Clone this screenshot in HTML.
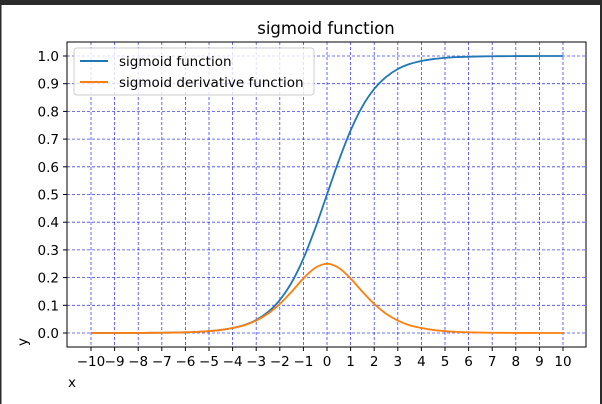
<!DOCTYPE html>
<html><head><meta charset="utf-8"><style>
html,body{margin:0;padding:0;background:#fff;}
svg{display:block;font-family:"DejaVu Sans","Liberation Sans",sans-serif;}
</style></head><body>
<svg id="chart" width="602" height="404" viewBox="0 0 602 404">
<rect x="0" y="0" width="602" height="404" fill="#fff"/>
<rect x="0" y="0" width="602" height="5" fill="#2b2b2b"/>
<rect x="0" y="0" width="1.5" height="404" fill="#2b2b2b"/>
<rect x="600" y="0" width="2" height="404" fill="#2b2b2b"/>
<text x="326" y="34" font-size="16.5" text-anchor="middle" fill="#000">sigmoid function</text>
<g id="grid"></g>
<g id="series"></g>
<g id="ticks"></g>
<rect x="67" y="42" width="519" height="305" fill="none" stroke="#000" stroke-width="1"/>
<g>
<rect x="74" y="48" width="240" height="47" rx="3" fill="#fff" fill-opacity="0.8" stroke="#ccc" stroke-width="1"/>
<line x1="80" y1="61" x2="108" y2="61" stroke="#1f77b4" stroke-width="2"/>
<text x="119" y="66" font-size="13.5" fill="#000">sigmoid function</text>
<line x1="80" y1="82" x2="108" y2="82" stroke="#ff7f0e" stroke-width="2"/>
<text x="119" y="87" font-size="13.5" fill="#000">sigmoid derivative function</text>
</g>
<text x="72" y="387" font-size="13.5" text-anchor="middle" fill="#000">x</text>
<text x="27" y="342" font-size="13.5" text-anchor="middle" fill="#000" transform="rotate(-90 27 342)">y</text>
</svg>
<script>
const xValues=[-10,-9.5,-9,-8.5,-8,-7.5,-7,-6.5,-6,-5.5,-5,-4.5,-4,-3.5,-3,-2.5,-2,-1.5,-1,-0.5,0,0.5,1,1.5,2,2.5,3,3.5,4,4.5,5,5.5,6,6.5,7,7.5,8,8.5,9,9.5,10];
const sigmoidValues=[0.0000,0.0001,0.0001,0.0002,0.0003,0.0006,0.0009,0.0015,0.0025,0.0041,0.0067,0.011,0.018,0.029,0.047,0.076,0.119,0.182,0.269,0.378,0.5,0.622,0.731,0.818,0.881,0.924,0.953,0.971,0.982,0.989,0.9933,0.9959,0.9975,0.9985,0.9991,0.9994,0.9997,0.9998,0.9999,0.9999,1.0];
const derivativeValues=[0.0000,0.0001,0.0001,0.0002,0.0003,0.0006,0.0009,0.0015,0.0025,0.0041,0.0066,0.011,0.018,0.028,0.045,0.070,0.105,0.149,0.197,0.235,0.25,0.235,0.197,0.149,0.105,0.070,0.045,0.028,0.018,0.011,0.0066,0.0041,0.0025,0.0015,0.0009,0.0006,0.0003,0.0002,0.0001,0.0001,0.0000];
const xTicks=[-10,-9,-8,-7,-6,-5,-4,-3,-2,-1,0,1,2,3,4,5,6,7,8,9,10];
const yTicks=[0,0.1,0.2,0.3,0.4,0.5,0.6,0.7,0.8,0.9,1.0];
const yTickLabels=["0.0","0.1","0.2","0.3","0.4","0.5","0.6","0.7","0.8","0.9","1.0"];

const NS="http://www.w3.org/2000/svg";
function sx(v){return 91+(v+10)*(563-91)/20;}
function sy(v){return 333-v*(333-56);}
function mk(tag,attrs,parent){const e=document.createElementNS(NS,tag);for(const k in attrs)e.setAttribute(k,attrs[k]);parent.appendChild(e);return e;}
const grid=document.getElementById('grid'),ticks=document.getElementById('ticks'),series=document.getElementById('series');
xTicks.forEach(function(t){
  const g=mk('line',{x1:sx(t),x2:sx(t),y1:42,y2:347,stroke:'#0000ff','stroke-opacity':0.75,'stroke-width':0.8,'stroke-dasharray':'3,2'},grid);
  
  
  const tk=mk('line',{x1:sx(t),x2:sx(t),y1:347,y2:351,stroke:'#000','stroke-width':1},ticks);
  
  
  const lb=mk('text',{x:sx(t),y:366,'font-size':13.5,'text-anchor':'middle',fill:'#000'},ticks);
  lb.textContent=(t<0?'\u2212'+(-t):String(t));
  
  
});
yTicks.forEach(function(t,i){
  const g=mk('line',{x1:67,x2:586,y1:sy(t),y2:sy(t),stroke:'#0000ff','stroke-opacity':0.75,'stroke-width':0.8,'stroke-dasharray':'3,2'},grid);
  
  
  const tk=mk('line',{x1:63,x2:67,y1:sy(t),y2:sy(t),stroke:'#000','stroke-width':1},ticks);
  
  
  const lb=mk('text',{x:59,y:sy(t)+5,'font-size':13.5,'text-anchor':'end',fill:'#000'},ticks);
  lb.textContent=yTickLabels[i];
  
  
});
function smoothPath(xs,ys){
  const p=xs.map(function(x,i){return [sx(x),sy(ys[i])];});
  let d='M'+p[0][0].toFixed(2)+','+p[0][1].toFixed(2);
  for(let i=0;i<p.length-1;i++){
    const p0=p[Math.max(i-1,0)],p1=p[i],p2=p[i+1],p3=p[Math.min(i+2,p.length-1)];
    const c1x=p1[0]+(p2[0]-p0[0])/6,c1y=p1[1]+(p2[1]-p0[1])/6;
    const c2x=p2[0]-(p3[0]-p1[0])/6,c2y=p2[1]-(p3[1]-p1[1])/6;
    d+=' C'+c1x.toFixed(2)+','+c1y.toFixed(2)+' '+c2x.toFixed(2)+','+c2y.toFixed(2)+' '+p2[0].toFixed(2)+','+p2[1].toFixed(2);
  }
  return d;
}
const s1=mk('path',{d:smoothPath(xValues,sigmoidValues),fill:'none',stroke:'#1f77b4','stroke-width':1.8},series);


const s2=mk('path',{d:smoothPath(xValues,derivativeValues),fill:'none',stroke:'#ff7f0e','stroke-width':1.8},series);


</script>
</body></html>
